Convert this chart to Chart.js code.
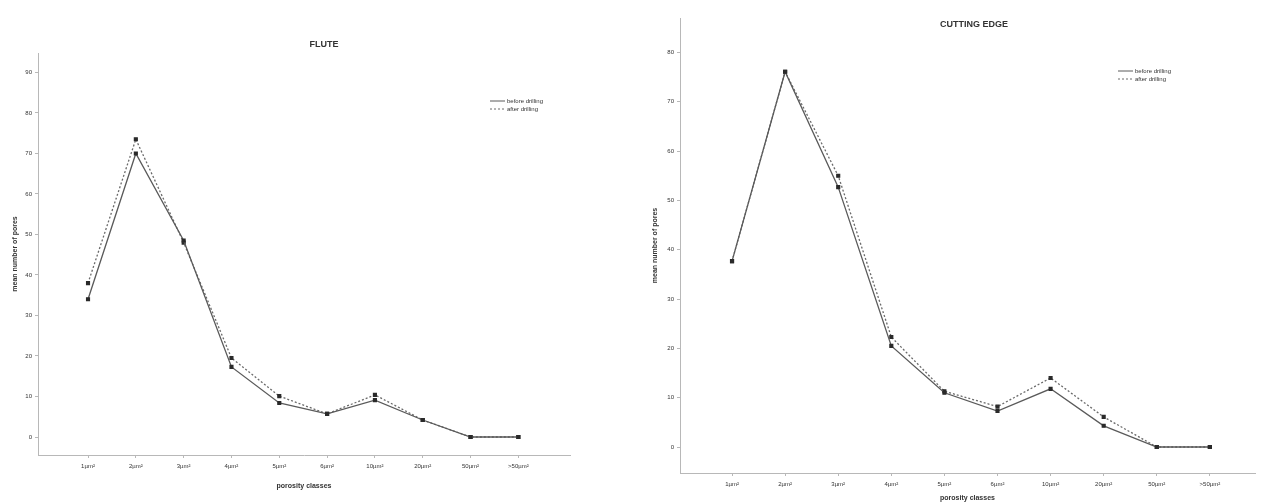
<!DOCTYPE html>
<html>
<head>
<meta charset="utf-8">
<script src="https://cdn.jsdelivr.net/npm/chart.js@4.4.1/dist/chart.umd.min.js"></script>
<style>
  body { margin: 0; background: #fff; }
  #wrap { position: relative; width: 1261px; height: 502px; }
  canvas { position: absolute; top: 0; }
</style>
</head>
<body>
<div id="wrap">
  <canvas id="flute" width="625" height="502" style="left:0px"></canvas>
  <canvas id="edge" width="631" height="502" style="left:630px"></canvas>
</div>
<script>
// porosity classes on the x axis
const classes = ['1µm²', '2µm²', '3µm²', '4µm²', '5µm²', '6µm²', '10µm²', '20µm²', '50µm²', '>50µm²'];
const seriesNames = ['before drilling', 'after drilling'];

// mean number of pores
const fluteBefore = [34, 70, 48.5, 17.3, 8.4, 5.7, 9.1, 4.2, 0, 0];
const fluteAfter = [38, 73.5, 48, 19.5, 10.1, 5.7, 10.4, 4.2, 0, 0];
const edgeBefore = [37.7, 76.1, 52.7, 20.5, 11, 7.3, 11.8, 4.3, 0, 0];
const edgeAfter = [37.7, 76.1, 55, 22.3, 11.3, 8.2, 14, 6.1, 0, 0];

const fluteTicks = [0, 10, 20, 30, 40, 50, 60, 70, 80, 90];
const edgeTicks = [0, 10, 20, 30, 40, 50, 60, 70, 80];

const axisColor = '#b8b8b8';
const textColor = '#333';

// title + small legend drawn on top of the plot
const labelsPlugin = {
  id: 'labelsPlugin',
  afterDraw(chart, args, opts) {
    const ctx = chart.ctx;
    ctx.save();
    ctx.fillStyle = textColor;
    ctx.font = 'bold 9px "Liberation Sans", Arial';
    ctx.textAlign = 'center';
    ctx.textBaseline = 'middle';
    ctx.fillText(opts.title, opts.titleX, opts.titleY);

    ctx.font = '6px "Liberation Sans", Arial';
    ctx.textAlign = 'left';
    chart.data.datasets.forEach((ds, i) => {
      const y = opts.legendY + i * 8;
      ctx.strokeStyle = ds.borderColor;
      ctx.lineWidth = 1;
      ctx.setLineDash(ds.borderDash || []);
      ctx.beginPath();
      ctx.moveTo(opts.legendX, y);
      ctx.lineTo(opts.legendX + 15, y);
      ctx.stroke();
      ctx.setLineDash([]);
      ctx.fillStyle = textColor;
      ctx.fillText(ds.label, opts.legendX + 17, y);
    });
    ctx.restore();
  }
};

function toPoints(values) {
  return values.map((v, i) => ({ x: i, y: v }));
}

function makeChart(id, before, after, yTicks, o) {
  return new Chart(document.getElementById(id), {
    type: 'line',
    data: {
      datasets: [
        {
          label: seriesNames[0],
          data: toPoints(before),
          borderColor: '#5a5a5a',
          borderWidth: 1.3,
          pointStyle: 'rect',
          pointRadius: 2,
          pointBackgroundColor: '#2a2a2a',
          pointBorderColor: '#2a2a2a',
          tension: 0
        },
        {
          label: seriesNames[1],
          data: toPoints(after),
          borderColor: '#6a6a6a',
          borderWidth: 1.3,
          borderDash: [2, 2],
          pointStyle: 'rect',
          pointRadius: 2,
          pointBackgroundColor: '#2a2a2a',
          pointBorderColor: '#2a2a2a',
          tension: 0
        }
      ]
    },
    options: {
      responsive: false,
      animation: false,
      layout: { padding: o.padding },
      plugins: {
        legend: { display: false },
        tooltip: { enabled: false },
        labelsPlugin: o.labels
      },
      scales: {
        x: {
          type: 'linear',
          min: o.xMin,
          max: o.xMax,
          afterBuildTicks: s => { s.ticks = classes.map((c, i) => ({ value: i })); },
          afterFit: s => { s.height = o.xHeight; },
          ticks: {
            callback: v => classes[v],
            font: { size: 6, family: '"Liberation Sans", Arial' },
            color: textColor,
            padding: 5,
            maxRotation: 0,
            autoSkip: false
          },
          grid: { drawOnChartArea: false, drawTicks: true, tickLength: 3, color: axisColor },
          border: { color: axisColor },
          title: {
            display: true,
            text: 'porosity classes',
            font: { size: 7, weight: 'bold', family: '"Liberation Sans", Arial' },
            color: textColor,
            padding: { top: 0, bottom: o.xTitlePad }
          }
        },
        y: {
          min: o.yMin,
          max: o.yMax,
          afterBuildTicks: s => { s.ticks = yTicks.map(v => ({ value: v })); },
          afterFit: s => { s.width = o.yWidth; },
          ticks: {
            font: { size: 6, family: '"Liberation Sans", Arial' },
            color: textColor,
            padding: 3
          },
          grid: { drawOnChartArea: false, drawTicks: true, tickLength: 3, color: axisColor },
          border: { color: axisColor },
          title: {
            display: true,
            text: 'mean number of pores',
            font: { size: 7, weight: 'bold', family: '"Liberation Sans", Arial' },
            color: textColor,
            padding: { top: o.yTitlePad, bottom: 0 }
          }
        }
      }
    },
    plugins: [labelsPlugin]
  });
}

makeChart('flute', fluteBefore, fluteAfter, fluteTicks, {
  padding: { left: 0, right: 55, top: 53, bottom: 7 },
  xMin: -1.046, xMax: 10.08, yMin: -4.44, yMax: 94.8,
  xHeight: 40, yWidth: 38, xTitlePad: 5, yTitlePad: 11,
  labels: { title: 'FLUTE', titleX: 324, titleY: 45, legendX: 490, legendY: 101 }
});

makeChart('edge', edgeBefore, edgeAfter, edgeTicks, {
  padding: { left: 0, right: 6, top: 18, bottom: 0 },
  xMin: -0.98, xMax: 9.85, yMin: -5.27, yMax: 87,
  xHeight: 29, yWidth: 50, xTitlePad: 0, yTitlePad: 21,
  labels: { title: 'CUTTING EDGE', titleX: 344, titleY: 25, legendX: 488, legendY: 71 }
});
</script>
</body>
</html>
